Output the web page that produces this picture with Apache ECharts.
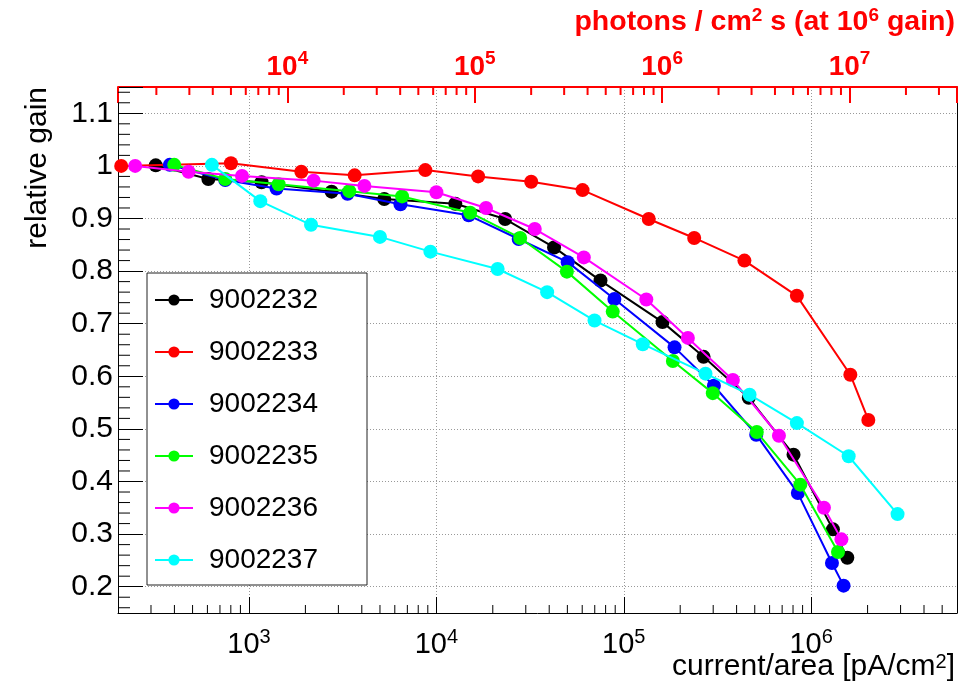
<!DOCTYPE html>
<html><head><meta charset="utf-8">
<script src="https://cdn.jsdelivr.net/npm/echarts@6/dist/echarts.min.js"></script>
<style>html,body{margin:0;padding:0;background:#fff}#c{width:966px;height:686px}</style>
</head><body><div id="c"></div>
<script>
// ---------- data ----------
const seriesNames = ['9002232','9002233','9002234','9002235','9002236','9002237'];
const seriesColors = ['#000000','#ff0000','#0000ff','#00ff00','#ff00ff','#00ffff'];

const x9002232 = [318, 607, 1167, 2760, 5270, 12620, 23280, 42460, 75100, 161000, 266600, 464500, 805000, 1306000, 1559000];
const y9002232 = [1.001, 0.975, 0.969, 0.951, 0.937, 0.928, 0.899, 0.845, 0.782, 0.703, 0.637, 0.559, 0.451, 0.309, 0.255];

const x9002233 = [208, 801, 1902, 3664, 8728, 16700, 32060, 60260, 135900, 237600, 440300, 839000, 1618000, 2018000];
const y9002233 = [1.000, 1.005, 0.989, 0.982, 0.992, 0.980, 0.970, 0.954, 0.899, 0.863, 0.820, 0.753, 0.603, 0.517];

const x9002234 = [378, 747, 1403, 3357, 6430, 14870, 27500, 50200, 89100, 186600, 302700, 509000, 849000, 1291000, 1489000];
const y9002234 = [1.002, 0.973, 0.957, 0.947, 0.927, 0.906, 0.861, 0.817, 0.747, 0.655, 0.582, 0.489, 0.378, 0.245, 0.202];

const x9002235 = [399, 747, 1439, 3429, 6560, 15140, 28000, 49700, 87300, 182800, 298600, 512600, 875000, 1390000];
const y9002235 = [1.002, 0.975, 0.965, 0.952, 0.942, 0.911, 0.863, 0.799, 0.723, 0.629, 0.568, 0.494, 0.394, 0.266];

const x9002236 = [247, 476, 918, 2213, 4130, 10000, 18400, 33500, 61200, 131900, 219800, 382000, 673000, 1170000, 1450000];
const y9002236 = [1.000, 0.989, 0.981, 0.972, 0.962, 0.950, 0.920, 0.880, 0.826, 0.746, 0.673, 0.593, 0.487, 0.350, 0.290];

const x9002237 = [634, 1149, 2143, 5000, 9290, 21230, 39000, 69800, 126300, 273000, 469000, 839000, 1585000, 2890000];
const y9002237 = [1.002, 0.933, 0.888, 0.865, 0.837, 0.804, 0.760, 0.706, 0.661, 0.605, 0.565, 0.511, 0.448, 0.338];

const xSets = [x9002232, x9002233, x9002234, x9002235, x9002236, x9002237];
const ySets = [y9002232, y9002233, y9002234, y9002235, y9002236, y9002237];

// axis ranges and tick definitions
const xMin = 200, xMax = 6e6;          // current/area [pA/cm^2]
const yMin = 0.15, yMax = 1.15;        // relative gain
const photonsPerPA = 6.2415;           // photons/cm^2 s per pA/cm^2 at 10^6 gain
const minorMantissas = [2,3,4,5,6,7,8,9];
const bottomDecades = [100, 1e3, 1e4, 1e5, 1e6];
const topDecades = [1e3, 1e4, 1e5, 1e6, 1e7];
const yMinorStep = 0.02;

// ---------- helpers ----------
const FONT = '"Liberation Sans", Arial, Helvetica, sans-serif';
function minorList(decades, lo, hi) {
  const out = [];
  decades.forEach(d => minorMantissas.forEach(m => { const v = d * m; if (v > lo * 1.0001 && v < hi * 0.9999) out.push(v); }));
  return out;
}
const bottomMinor = minorList(bottomDecades, xMin, xMax);
const topMinor = minorList(topDecades, xMin * photonsPerPA, xMax * photonsPerPA);
const leftMinor = [];
for (let k = Math.ceil(yMin / yMinorStep + 1e-9); k * yMinorStep < yMax - 1e-9; k++) {
  if (k % 5 !== 0) leftMinor.push(+(k * yMinorStep).toFixed(3));
}

function powLabel(v) {
  const e = Math.round(Math.log10(v));
  if (Math.abs(Math.log10(v) - e) > 1e-6) return '';
  return '{b|10}{s|' + e + '}';
}
function yLabel(v) {
  if (Math.abs(v * 10 - Math.round(v * 10)) > 1e-6) return '';
  return String(+v.toFixed(1));
}

function tickSeries(data, xAxisIndex, kind, len, color, width) {
  return {
    type: 'custom', xAxisIndex: xAxisIndex, yAxisIndex: 0, silent: true, clip: false, z: 5,
    data: data,
    renderItem: function (params, api) {
      const cs = params.coordSys;
      let shape;
      if (kind === 'bottom') {
        const px = api.coord([api.value(0), yMin])[0];
        shape = { x1: px, y1: cs.y + cs.height, x2: px, y2: cs.y + cs.height - len };
      } else if (kind === 'top') {
        const px = api.coord([api.value(0), yMin])[0];
        shape = { x1: px, y1: cs.y, x2: px, y2: cs.y + len };
      } else {
        const py = api.coord([xMin, api.value(1)])[1];
        shape = { x1: cs.x, y1: py, x2: cs.x + len, y2: py };
      }
      return { type: 'line', shape: shape, style: { stroke: color, lineWidth: width } };
    }
  };
}

const lineSeries = seriesNames.map((name, i) => ({
  name: name,
  type: 'line',
  xAxisIndex: 0, yAxisIndex: 0,
  data: xSets[i].map((x, j) => [x, ySets[i][j]]),
  symbol: 'circle', symbolSize: 14,
  showAllSymbol: true,
  lineStyle: { color: seriesColors[i], width: 2 },
  itemStyle: { color: seriesColors[i] },
  emphasis: { disabled: true },
  z: 10 + i
}));

const chart = echarts.init(document.getElementById('c'), null, { renderer: 'canvas' });
const option = {
  animation: false,
  backgroundColor: '#ffffff',
  textStyle: { fontFamily: FONT },
  grid: { left: 118, right: 9, top: 87, bottom: 73, containLabel: false },
  xAxis: [
    {
      type: 'log', logBase: 10, min: xMin, max: xMax, position: 'bottom',
      axisLine: { show: true, lineStyle: { color: '#000', width: 1 } },
      axisTick: { show: true, inside: true, length: 16, lineStyle: { color: '#000', width: 1 } },
      axisLabel: {
        margin: 14, formatter: powLabel,
        rich: {
          b: { fontSize: 29, fontFamily: FONT, color: '#000', lineHeight: 36 },
          s: { fontSize: 20, fontFamily: FONT, color: '#000', verticalAlign: 'top', lineHeight: 22 }
        }
      },
      splitLine: { show: true, lineStyle: { color: '#999', width: 1, type: [1, 2] } }
    },
    {
      type: 'log', logBase: 10, min: xMin * photonsPerPA, max: xMax * photonsPerPA, position: 'top',
      axisLine: { show: true, lineStyle: { color: '#ff0000', width: 2 } },
      axisTick: { show: true, inside: true, length: 16, lineStyle: { color: '#ff0000', width: 2 } },
      axisLabel: {
        margin: 2, formatter: powLabel,
        rich: {
          b: { fontSize: 28, fontWeight: 'bold', fontFamily: FONT, color: '#ff0000', lineHeight: 36 },
          s: { fontSize: 19, fontWeight: 'bold', fontFamily: FONT, color: '#ff0000', verticalAlign: 'top', lineHeight: 22 }
        }
      },
      splitLine: { show: false }
    }
  ],
  yAxis: [
    {
      type: 'value', min: yMin, max: yMax, splitNumber: 10,
      axisLine: { show: true, lineStyle: { color: '#000', width: 1 } },
      axisTick: { show: true, inside: true, length: 25, lineStyle: { color: '#000', width: 1 } },
      axisLabel: { margin: 5, fontSize: 30, color: '#000', fontFamily: FONT, formatter: yLabel },
      splitLine: { show: true, lineStyle: { color: '#999', width: 1, type: [1, 2] } }
    },
    {
      type: 'value', min: yMin, max: yMax, position: 'right',
      axisLine: { show: true, lineStyle: { color: '#000', width: 1 } },
      axisTick: { show: false }, axisLabel: { show: false }, splitLine: { show: false }
    }
  ],
  legend: {
    data: seriesNames,
    orient: 'vertical', left: 147, top: 273,
    itemWidth: 38, itemHeight: 14, itemGap: 24,
    padding: [13, 49, 11, 7],
    backgroundColor: '#ffffff', borderColor: '#222', borderWidth: 1,
    selectedMode: false,
    textStyle: { fontSize: 28, color: '#000', fontFamily: FONT, padding: [0, 0, 0, 11] }
  },
  graphic: [
    {
      type: 'text', x: 38, y: 87, rotation: Math.PI / 2,
      style: { text: 'relative gain', fontSize: 30, fontFamily: FONT, fill: '#000', align: 'right', verticalAlign: 'middle' }
    },
    {
      type: 'text', x: 955, y: 667,
      style: {
        text: 'current/area [pA/cm{s|2}]', fontSize: 30, fontFamily: FONT, fill: '#000', align: 'right', verticalAlign: 'middle',
        rich: { s: { fontSize: 20, fontFamily: FONT, fill: '#000', verticalAlign: 'top' } }
      }
    },
    {
      type: 'text', x: 955, y: 22,
      style: {
        text: '{t|photons / cm}{s|2}{t| s (at 10}{s|6}{t| gain)}', fontFamily: FONT, align: 'right', verticalAlign: 'middle',
        rich: {
          t: { fontSize: 28.5, fontWeight: 'bold', fontFamily: FONT, fill: '#ff0000', lineHeight: 32 },
          s: { fontSize: 19, fontWeight: 'bold', fontFamily: FONT, fill: '#ff0000', verticalAlign: 'top', lineHeight: 24 }
        }
      }
    }
  ],
  series: lineSeries.concat([
    tickSeries(bottomMinor.map(v => [v, yMin]), 0, 'bottom', 8, '#000', 1),
    tickSeries(topMinor.map(v => [v, yMin]), 1, 'top', 8, '#ff0000', 2),
    tickSeries(leftMinor.map(v => [xMin, v]), 0, 'left', 12, '#000', 1)
  ])
};
chart.setOption(option);
</script>
</body></html>
